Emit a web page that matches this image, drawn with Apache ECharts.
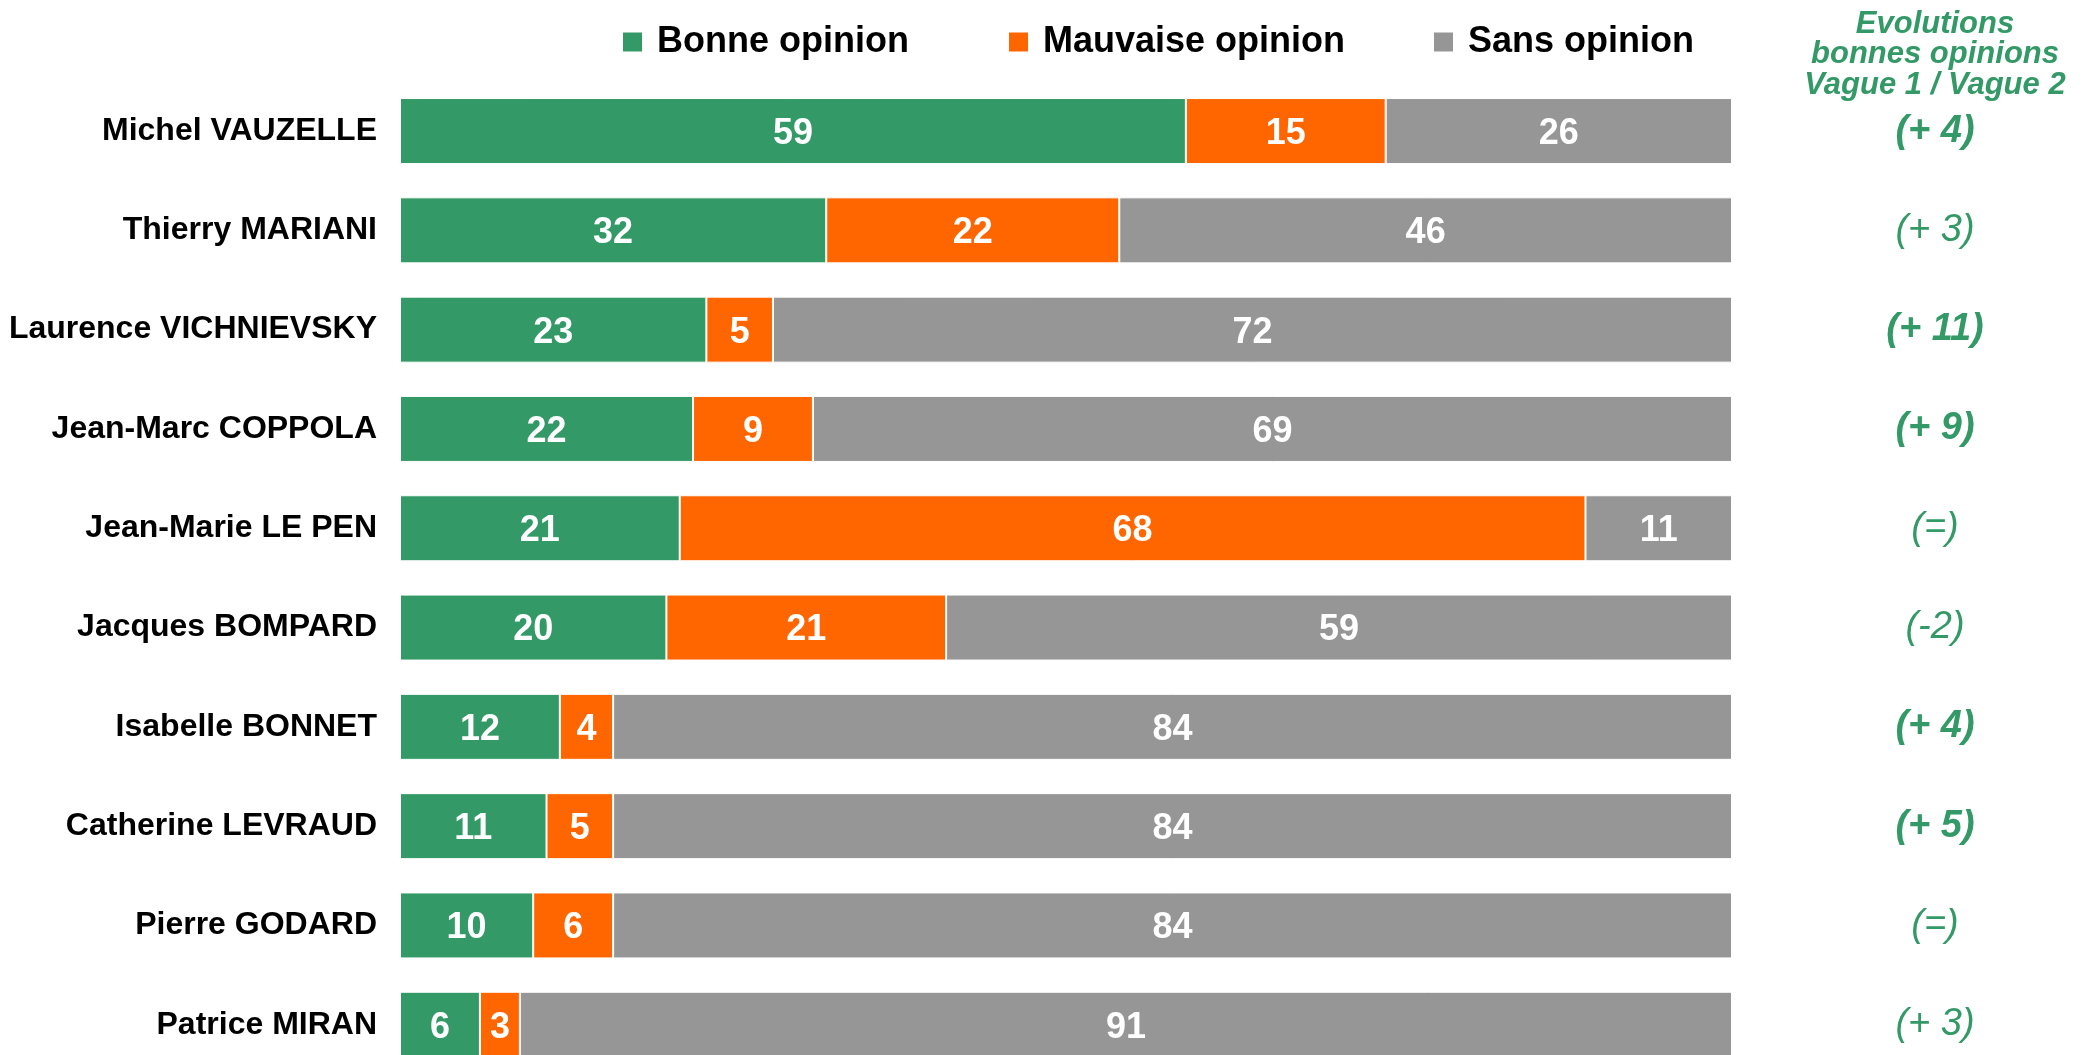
<!DOCTYPE html>
<html>
<head>
<meta charset="utf-8">
<script src="https://cdn.jsdelivr.net/npm/echarts@6/dist/echarts.min.js"></script>
<style>
html,body{margin:0;padding:0;background:#fff;overflow:hidden;}
#chart{width:2094px;height:1080px;}
</style>
</head>
<body>
<div id="chart"></div>
<script>
const categories = ["Michel VAUZELLE","Thierry MARIANI","Laurence VICHNIEVSKY","Jean-Marc COPPOLA","Jean-Marie LE PEN","Jacques BOMPARD","Isabelle BONNET","Catherine LEVRAUD","Pierre GODARD","Patrice MIRAN"];
const bonne = [59,32,23,22,21,20,12,11,10,6];
const mauvaise = [15,22,5,9,68,21,4,5,6,3];
const sans = [26,46,72,69,11,59,84,84,84,91];
const evolutions = ["(+ 4)","(+ 3)","(+ 11)","(+ 9)","(=)","(-2)","(+ 4)","(+ 5)","(=)","(+ 3)"];
const evolBold = [true,false,true,true,false,false,true,true,false,false];
const seriesNames = ["Bonne opinion","Mauvaise opinion","Sans opinion"];
const headerText = "Evolutions\nbonnes opinions\nVague 1 / Vague 2";

const FONT = "'Liberation Sans', Arial, sans-serif";
const GREEN = "#339966", ORANGE = "#FF6600", GREY = "#969696";

const chart = echarts.init(document.getElementById('chart'));
const labelCfg = {show:true, position:'inside', offset:[0,3], color:'#fff', fontFamily:FONT, fontWeight:'bold', fontSize:36};
function mkSeries(name, data, color){
  return {name:name, type:'bar', stack:'t', data:data, barWidth:66,
    itemStyle:{color:color, borderColor:'#fff', borderWidth:1},
    label:labelCfg, emphasis:{disabled:true}};
}
function mkLegend(name, left){
  return {data:[name], left:left, top:17, icon:'rect', itemWidth:21, itemHeight:21,
    textStyle:{fontFamily:FONT, fontWeight:'bold', fontSize:36, color:'#000', lineHeight:40, padding:[0,0,0,9]},
    selectedMode:false};
}
chart.setOption({
  animation:false,
  legend:[mkLegend(seriesNames[0],616), mkLegend(seriesNames[1],1002), mkLegend(seriesNames[2],1427)],
  grid:{left:400, width:1332, top:81.4, height:993},
  xAxis:{type:'value', min:0, max:100, show:false},
  yAxis:[
    {type:'category', data:categories, inverse:true, axisLine:{show:false}, axisTick:{show:false},
     axisLabel:{margin:23, color:'#000', fontFamily:FONT, fontWeight:'bold', fontSize:32, padding:[5,0,0,0]}},
    {type:'category', data:evolutions, inverse:true, position:'right', axisLine:{show:false}, axisTick:{show:false},
     axisLabel:{margin:203, align:'center',
       formatter:function(v,i){return (evolBold[i]?'{b|':'{n|')+v+'}';},
       rich:{
         b:{color:GREEN, fontFamily:FONT, fontWeight:'bold', fontStyle:'italic', fontSize:38},
         n:{color:GREEN, fontFamily:FONT, fontWeight:'normal', fontStyle:'italic', fontSize:38}
       }}}
  ],
  graphic:[{type:'text', x:1935, y:9, style:{text:headerText, align:'center', verticalAlign:'top',
    fill:GREEN, font:"italic bold 31px 'Liberation Sans', Arial, sans-serif", lineHeight:30.5}}],
  series:[mkSeries(seriesNames[0],bonne,GREEN), mkSeries(seriesNames[1],mauvaise,ORANGE), mkSeries(seriesNames[2],sans,GREY)]
});
</script>
</body>
</html>
